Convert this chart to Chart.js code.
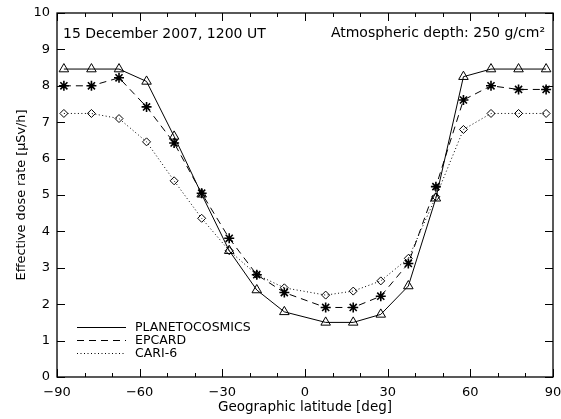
<!DOCTYPE html>
<html>
<head>
<meta charset="utf-8">
<script src="https://cdn.jsdelivr.net/npm/chart.js@4.4.0/dist/chart.umd.min.js"></script>
<style>
html,body{margin:0;padding:0;background:#fff;}
#wrap{width:561px;height:419px;position:relative;}
</style>
</head>
<body>
<div id="wrap"><canvas id="c" width="561" height="419"></canvas></div>
<script>
const latitudes = [-87.5,-77.5,-67.5,-57.5,-47.5,-37.5,-27.5,-17.5,-7.5,7.5,17.5,27.5,37.5,47.5,57.5,67.5,77.5,87.5];
const planetocosmics = [8.46,8.46,8.46,8.12,6.61,5.02,3.47,2.39,1.79,1.50,1.50,1.72,2.50,4.91,8.25,8.46,8.46,8.46];
const epcard = [8.00,8.00,8.22,7.42,6.43,5.05,3.81,2.81,2.32,1.91,1.91,2.22,3.12,5.23,7.61,8.00,7.90,7.90];
const cari6 = [7.24,7.24,7.10,6.46,5.39,4.36,3.47,2.81,2.45,2.25,2.36,2.64,3.26,4.95,6.80,7.24,7.24,7.24];
const seriesNames = ['PLANETOCOSMICS','EPCARD','CARI-6'];
const xTicks = [-90,-60,-30,0,30,60,90];
const yTicks = [0,1,2,3,4,5,6,7,8,9,10];
const dateText = '15 December 2007, 1200 UT';
const depthText = 'Atmospheric depth: 250 g/cm\u00B2';
const xTitle = 'Geographic latitude [deg]';
const yTitle = 'Effective dose rate [\u03BCSv/h]';

function pts(vals){ return latitudes.map((x,i)=>({x:x,y:vals[i]})); }
const FONT = 'DejaVu Sans';

const framePlugin = {
  id:'frame',
  afterDraw(chart){
    const {ctx, chartArea:a, scales:{x,y}} = chart;
    ctx.save();
    ctx.strokeStyle='#000';
    ctx.lineWidth=1.3;
    ctx.strokeRect(a.left, a.top, a.right-a.left, a.bottom-a.top);
    ctx.lineWidth=1;
    ctx.beginPath();
    for(let v=-90; v<=90; v+=10){
      const px = Math.round(x.getPixelForValue(v))+0.5;
      const len = (v%30===0)?8:4;
      ctx.moveTo(px,a.bottom); ctx.lineTo(px,a.bottom-len);
      ctx.moveTo(px,a.top); ctx.lineTo(px,a.top+len);
    }
    yTicks.forEach(v=>{
      const py = Math.round(y.getPixelForValue(v))+0.5;
      ctx.moveTo(a.left,py); ctx.lineTo(a.left+8,py);
      ctx.moveTo(a.right,py); ctx.lineTo(a.right-8,py);
    });
    ctx.stroke();
    // annotations
    ctx.fillStyle='#000';
    ctx.font='14px "'+FONT+'"';
    ctx.textBaseline='middle';
    ctx.textAlign='left';
    ctx.fillText(dateText, a.left+6, a.top+21);
    ctx.textAlign='right';
    ctx.fillText(depthText, a.right-8, a.top+20);
    // legend
    ctx.font='12.5px "'+FONT+'"';
    ctx.textAlign='left';
    chart.data.datasets.forEach((ds,i)=>{
      const ly = a.top + 314 + i*13;
      ctx.save();
      ctx.lineWidth=1;
      ctx.setLineDash(ds.borderDash||[]);
      ctx.beginPath();
      ctx.moveTo(a.left+20, ly+0.5); ctx.lineTo(a.left+69, ly+0.5);
      ctx.stroke();
      ctx.restore();
      ctx.fillText(ds.label, a.left+78, ly+1);
    });
    ctx.restore();
  }
};

const minus = v => String(v).replace('-', '\u2212');

new Chart(document.getElementById('c'), {
  type:'line',
  data:{
    datasets:[
      {label:seriesNames[0], data:pts(planetocosmics), borderColor:'#000', borderWidth:1, borderDash:[],
       pointStyle:'triangle', pointRadius:5.5, pointBorderColor:'#000', pointBackgroundColor:'rgba(0,0,0,0)', pointBorderWidth:1},
      {label:seriesNames[1], data:pts(epcard), borderColor:'#000', borderWidth:1, borderDash:[7,5],
       pointStyle:'star', pointRadius:5, pointBorderColor:'#000', pointBackgroundColor:'rgba(0,0,0,0)', pointBorderWidth:1.6},
      {label:seriesNames[2], data:pts(cari6), borderColor:'#000', borderWidth:1, borderDash:[1,2.5],
       pointStyle:'rectRot', pointRadius:4, pointBorderColor:'#000', pointBackgroundColor:'rgba(0,0,0,0)', pointBorderWidth:1}
    ]
  },
  options:{
    responsive:false,
    animation:false,
    devicePixelRatio:1,
    layout:{padding:{top:13,right:8,left:0,bottom:0}},
    plugins:{legend:{display:false}, tooltip:{enabled:false}},
    elements:{line:{tension:0}},
    scales:{
      x:{type:'linear', min:-90, max:90,
         afterBuildTicks(s){ s.ticks = xTicks.map(v=>({value:v})); },
         afterFit(s){ s.height = 42; s.paddingLeft = 0; s.paddingRight = 0; },
         grid:{display:false, drawTicks:false}, border:{display:false},
         ticks:{color:'#000', font:{family:FONT,size:13}, padding:8, maxRotation:0, callback:v=>minus(v)},
         title:{display:true, text:xTitle, color:'#000', font:{family:FONT,size:13.5}, padding:{top:0,bottom:3}}
      },
      y:{type:'linear', min:0, max:10,
         afterBuildTicks(s){ s.ticks = yTicks.map(v=>({value:v})); },
         afterFit(s){ s.width = 57; s.paddingTop = 0; s.paddingBottom = 0; },
         grid:{display:false, drawTicks:false}, border:{display:false},
         ticks:{color:'#000', font:{family:FONT,size:13}, padding:7, callback:v=>String(v)},
         title:{display:true, text:yTitle, color:'#000', font:{family:FONT,size:12.8}, padding:{top:13.5,bottom:0}}
      }
    }
  },
  plugins:[framePlugin]
});
</script>
</body>
</html>
